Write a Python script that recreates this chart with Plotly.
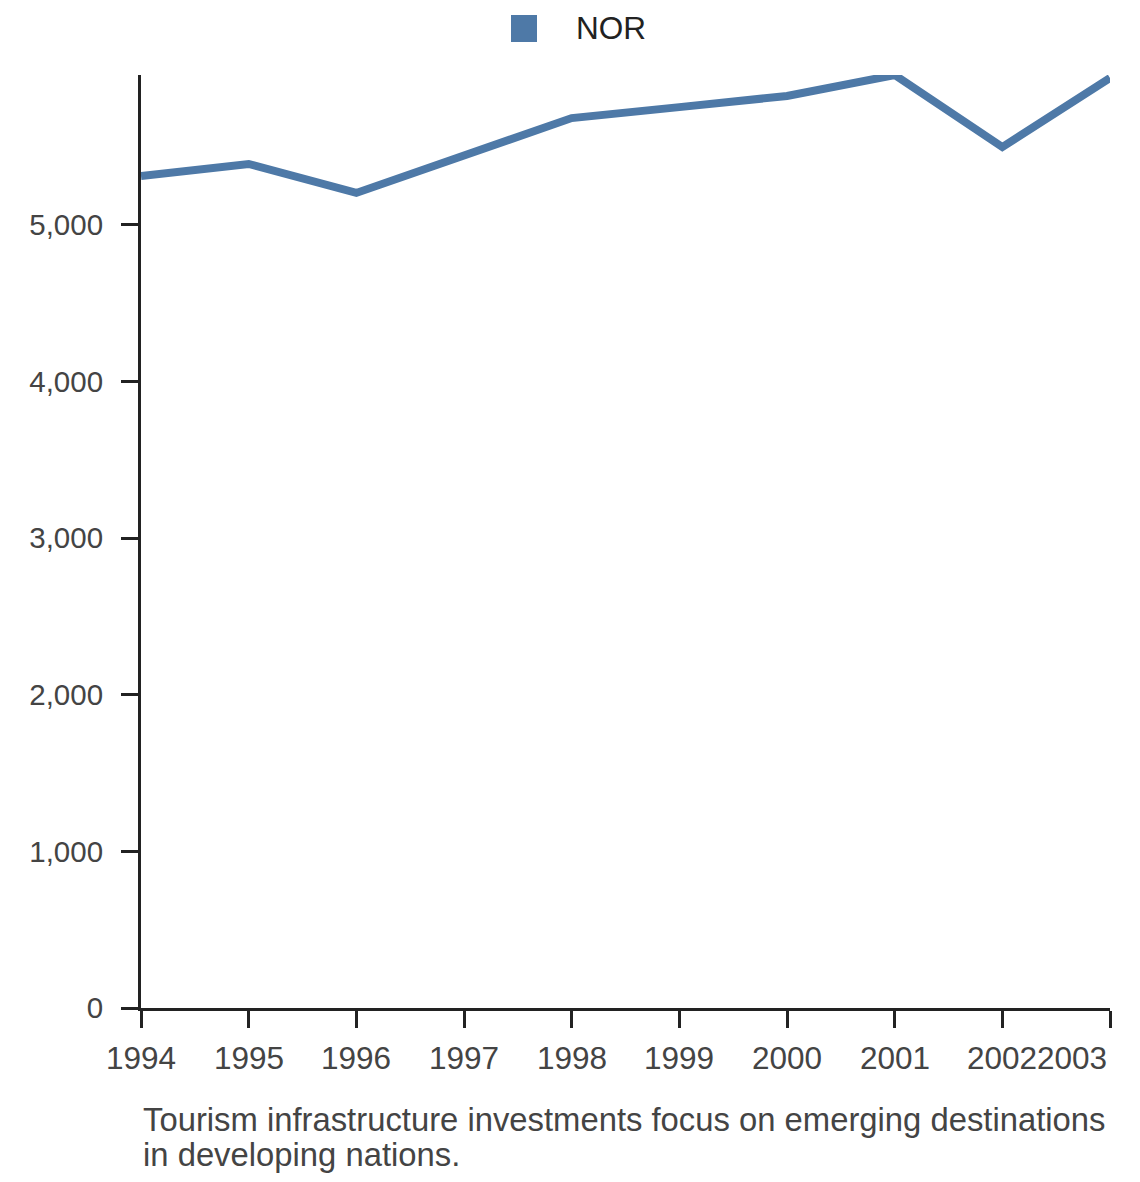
import plotly.graph_objects as go

years = [1994, 1995, 1996, 1997, 1998, 1999, 2000, 2001, 2002, 2003]
nor_values = [5312, 5389, 5204, 5446, 5682, 5752, 5823, 5957, 5497, 5938]
y_ticks = [0, 1000, 2000, 3000, 4000, 5000]
series_name = "NOR"
caption_lines = ["Tourism infrastructure investments focus on emerging destinations",
                 "in developing nations."]

color = "#4e79a7"
font = "Liberation Sans, Arial, sans-serif"

W, H = 1140, 1182
ML, MR, MT, MB = 133, 38, 67, 182
PW, PH = W - ML - MR, H - MT - MB


def px_x(px):
    return (px - ML) / PW


def px_y(py):
    return (H - MB - py) / PH


fig = go.Figure()
fig.add_trace(go.Scatter(x=years, y=nor_values, mode="lines", name=series_name,
                         line=dict(color=color, width=8), showlegend=False, cliponaxis=False))

fig.update_layout(
    width=W, height=H,
    margin=dict(l=ML, r=MR, t=MT, b=MB),
    paper_bgcolor="white", plot_bgcolor="white",
    font=dict(family=font, size=29.5, color="#444"),
    showlegend=False,
    xaxis=dict(range=[years[0], years[-1]], tickvals=years,
               showline=True, linecolor="#222", linewidth=3, ticks="outside", ticklen=17,
               tickwidth=3, tickcolor="#222", showgrid=False, zeroline=False,
               showticklabels=False),
    yaxis=dict(range=[0, max(nor_values)], tickvals=y_ticks, tickformat=",",
               showline=True, linecolor="#222", linewidth=3, ticks="outside", ticklen=17,
               tickwidth=3, tickcolor="#222", showgrid=False, zeroline=False,
               ticklabelstandoff=12),
)

# x tick labels (last one right-aligned to its tick, as in the original)
for i, yr in enumerate(years):
    fig.add_annotation(x=yr, y=0, xref="x", yref="y", text=str(yr), showarrow=False,
                       xanchor="right" if i == len(years) - 1 else "center",
                       xshift=-1 if i == len(years) - 1 else 0,
                       yanchor="top", yshift=-30, font=dict(size=31.5, color="#444"))

# legend: square swatch + label
fig.add_shape(type="rect", xref="paper", yref="paper",
              x0=px_x(503), x1=px_x(529), y0=px_y(34), y1=px_y(7),
              fillcolor=color, line=dict(width=0), layer="above")
fig.add_annotation(x=px_x(566), y=px_y(20.5), xref="paper", yref="paper", text=series_name,
                   showarrow=False, xanchor="left", yanchor="middle",
                   font=dict(size=31.5, color="#222"))

# caption
fig.add_annotation(x=0, y=px_y(1090.5), xref="paper", yref="paper", text=caption_lines[0],
                   showarrow=False, xanchor="left", yanchor="top", align="left",
                   font=dict(size=32.8, color="#444"))
fig.add_annotation(x=0, y=px_y(1125.5), xref="paper", yref="paper", text=caption_lines[1],
                   showarrow=False, xanchor="left", yanchor="top", align="left",
                   font=dict(size=32.8, color="#444"))

fig.write_html("out.html")
